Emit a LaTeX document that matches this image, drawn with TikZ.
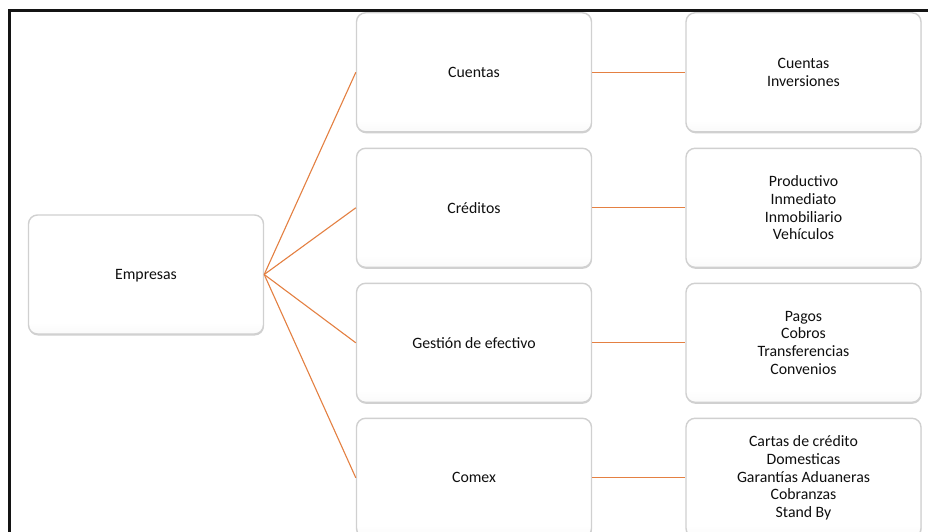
\documentclass[tikz,border=0pt]{standalone}
\usepackage{fontspec}
\setmainfont{Carlito}
\usetikzlibrary{shadows}

% soft bottom tint of the boxes
\pgfdeclareverticalshading{boxshade}{100bp}{%
  color(0bp)=(black!15); color(8bp)=(black!9); color(30bp)=(white); color(100bp)=(white)}

\definecolor{linkorange}{RGB}{228,128,66}
\definecolor{boxedge}{RGB}{208,208,208}
\definecolor{textdark}{RGB}{15,15,15}

\tikzset{
  card/.style={
    rectangle, rounded corners=9pt,
    minimum width=235pt, minimum height=119pt,
    shading=boxshade, draw=boxedge, line width=1.4pt,
    drop shadow={shadow xshift=0.4pt, shadow yshift=-1.5pt, fill=black!30, opacity=0.6},
    align=center, text=textdark,
    font=\fontsize{15.8}{17.7}\selectfont, inner sep=2pt
  },
  link/.style={draw=linkorange, line width=1.1pt}
}

\begin{document}
\begin{tikzpicture}[x=1pt, y=-1pt]
  \useasboundingbox (0,0) rectangle (928,532);
  \fill[white] (0,0) rectangle (928,532);

  % root
  \node[card] (emp) at (146,274.5) {\raisebox{-5pt}[0pt][0pt]{Empresas}};

  % second level
  \node[card] (cue) at (474,72.3)  {Cuentas};
  \node[card] (cre) at (474,207.8) {Créditos};
  \node[card] (ges) at (474,342.8) {Gestión de efectivo};
  \node[card] (com) at (474,477.8) {Comex};

  % product lists
  \node[card] (pcue) at (803.5,72.3)  {Cuentas\\Inversiones};
  \node[card] (pcre) at (803.5,207.8) {Productivo\\Inmediato\\Inmobiliario\\Vehículos};
  \node[card] (pges) at (803.5,342.8) {Pagos\\Cobros\\Transferencias\\Convenios};
  \node[card] (pcom) at (803.5,477.8) {Cartas de crédito\\Domesticas\\Garantías Aduaneras\\Cobranzas\\Stand By};

  % connectors
  \foreach \m in {cue,cre,ges,com}
    \draw[link] (emp.east) -- (\m.west);
  \draw[link] (cue.east) -- (pcue.west);
  \draw[link] (cre.east) -- (pcre.west);
  \draw[link] (ges.east) -- (pges.west);
  \draw[link] (com.east) -- (pcom.west);

  % frame edges
  \coordinate (ftl) at (9.5,10.5);
  \coordinate (ftr) at (928,10.5);
  \coordinate (fbl) at (9.5,532);
  \draw[line width=2.6pt, black!92] (ftr) -- (ftl) -- (fbl);
\end{tikzpicture}
\end{document}
